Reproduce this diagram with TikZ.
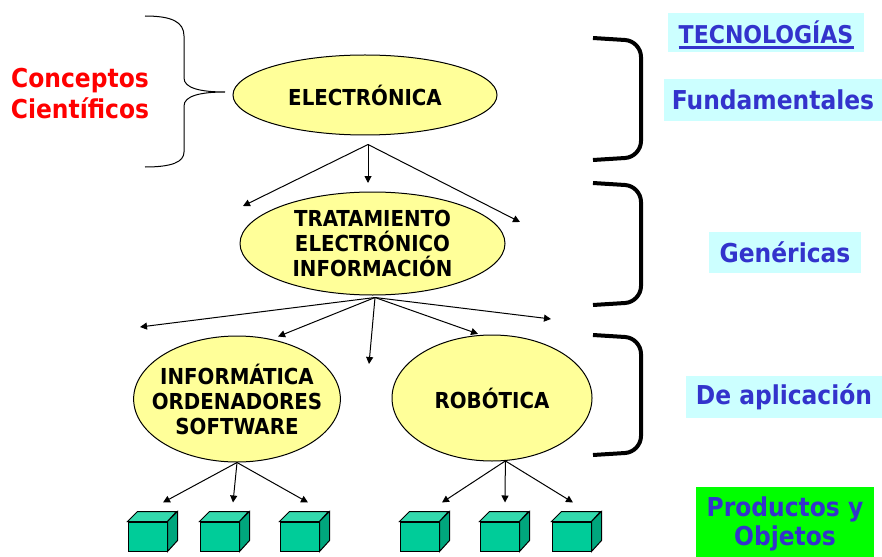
\documentclass[tikz,border=0pt]{standalone}
\usepackage{fontspec}
\setmainfont{DejaVu Sans Condensed}
\usepackage{tikz}
\usetikzlibrary{calc,shapes.geometric,arrows.meta}
\definecolor{amarillo}{HTML}{FFFF99}
\definecolor{azul}{HTML}{3333CC}
\definecolor{celeste}{HTML}{CCFFFF}
\definecolor{verde}{HTML}{00FF00}
\definecolor{rojo}{HTML}{FF0000}
\definecolor{cubofrente}{HTML}{00CC99}
\definecolor{cubotapa}{HTML}{33D9AD}
\definecolor{cubolado}{HTML}{00A67D}
\tikzset{
  elipse/.style={ellipse, draw, line width=1, fill=amarillo, inner sep=0, align=center,
    font=\fontsize{22}{25}\selectfont\bfseries},
  etiqueta/.style={fill=celeste, text=azul, inner sep=0, font=\fontsize{26}{30}\selectfont\bfseries},
  flecha/.style={line width=1, -{Triangle[length=7pt,width=7pt]}},
  corchete/.style={line width=4, rounded corners=16},
  cubo/.style={draw, line width=1, fill=cubofrente, minimum width=39, minimum height=29, inner sep=0}
}
\def\caja(#1)(#2){\node[cubo] (#1) at (#2) {};
  \filldraw[line width=1, fill=cubotapa] (#1.north west) -- ++(10,-10) -- ++(39,0) -- (#1.north east) -- cycle;
  \filldraw[line width=1, fill=cubolado] (#1.north east) -- ++(10,-10) -- ++(0,29) -- (#1.south east) -- cycle;}

\begin{document}
\begin{tikzpicture}[x=1pt, y=-1pt]
			%%%%% START %%%%%
			\useasboundingbox (0,0) rectangle (882,556);
			
			\node[text=rojo, align=center, font=\fontsize{26}{31}\selectfont\bfseries] (conceptos) at (80,94) {Conceptos\\Científicos};
			\draw[line width=1] (145,16) .. controls (172,16) and (184,22) .. (184,36) -- (184,78)
			  .. controls (184,88) and (200,92) .. (225,92) .. controls (200,92) and (184,96) .. (184,106)
			  -- (184,152) .. controls (184,162) and (172,167) .. (145,167);
			
			\node[elipse, minimum width=264, minimum height=80] (elec) at (365,95) {ELECTRÓNICA};
			\node[elipse, minimum width=265, minimum height=103, inner ysep=-4] (trat) at (372.5,243.5) {TRATAMIENTO\\ELECTRÓNICO\\INFORMACIÓN};
			\node[elipse, minimum width=200, minimum height=126, inner xsep=-12, inner ysep=-4] (inf) at (237,399) {INFORMÁTICA\\ORDENADORES\\SOFTWARE};
			\node[elipse, minimum width=200, minimum height=126] (rob) at (492,398) {ROBÓTICA};
			
			\coordinate (ramaE) at ($(elec.south)+(3,9)$);
			\coordinate (e1) at (243,206);
			\coordinate (e2) at (368,183);
			\coordinate (e3) at (520,222);
			\draw[flecha] (ramaE) -- (e1);
			\draw[flecha] (ramaE) -- (e2);
			\draw[flecha] (ramaE) -- (e3);
			
			\coordinate (ramaT) at ($(trat.south)+(2.5,2)$);
			\coordinate (t1) at (140,327);
			\coordinate (t2) at (369,364);
			\coordinate (t3) at (551,319);
			\draw[flecha] (ramaT) -- (t1);
			\draw[flecha, shorten >=7] (ramaT) -- (inf.60);
			\draw[flecha] (ramaT) -- (t2);
			\draw[flecha, shorten >=3] (ramaT) -- (rob.100);
			\draw[flecha] (ramaT) -- (t3);
			
			\caja(c1)(147.5,536.5)
			\caja(c2)(219.5,536.5)
			\caja(c3)(299.5,536.5)
			\caja(c4)(419.5,536.5)
			\caja(c5)(499.5,536.5)
			\caja(c6)(571.5,536.5)
			
			\draw[flecha] (inf.south) -- ($(c1.north)+(15.5,-19)$);
			\draw[flecha] (inf.south) -- ($(c2.north)+(13.5,-19)$);
			\draw[flecha] (inf.south) -- ($(c3.north)+(8.5,-19)$);
			\draw[flecha] (rob.-78) -- ($(c4.north)+(22.5,-19)$);
			\draw[flecha] (rob.-78) -- ($(c5.north)+(5.5,-19)$);
			\draw[flecha] (rob.-78) -- ($(c6.north)+(1.5,-19)$);
			
			\draw[corchete] (593,38) -- (641,41) -- (641,157) -- (593,160);
			\draw[corchete] (593,183) -- (641,186) -- (641,302) -- (593,305);
			\draw[corchete] (593,335) -- (641,338) -- (641,452) -- (593,455);
			
			\node[etiqueta, minimum width=196, minimum height=39, font=\fontsize{24.5}{26}\selectfont\bfseries] (tec) at (766,32.5) {TECNOLOGÍAS};
			\draw[azul, line width=2.5] ($(tec.base)+(-87.5,4)$) -- ($(tec.base)+(87.5,4)$);
			\node[etiqueta, minimum width=218, minimum height=42] (fund) at (773,100) {Fundamentales};
			\node[etiqueta, minimum width=152, minimum height=41] (gen) at (785,252.5) {Genéricas};
			\node[etiqueta, minimum width=196, minimum height=42] (apl) at (784,397) {De aplicación};
			\node[etiqueta, fill=verde, align=center, minimum width=178, minimum height=73, font=\fontsize{26}{29}\selectfont\bfseries] (prod) at (785,523.5) {Productos y\\Objetos};
			
			%%%%% END %%%%%
\end{tikzpicture}
\end{document}
